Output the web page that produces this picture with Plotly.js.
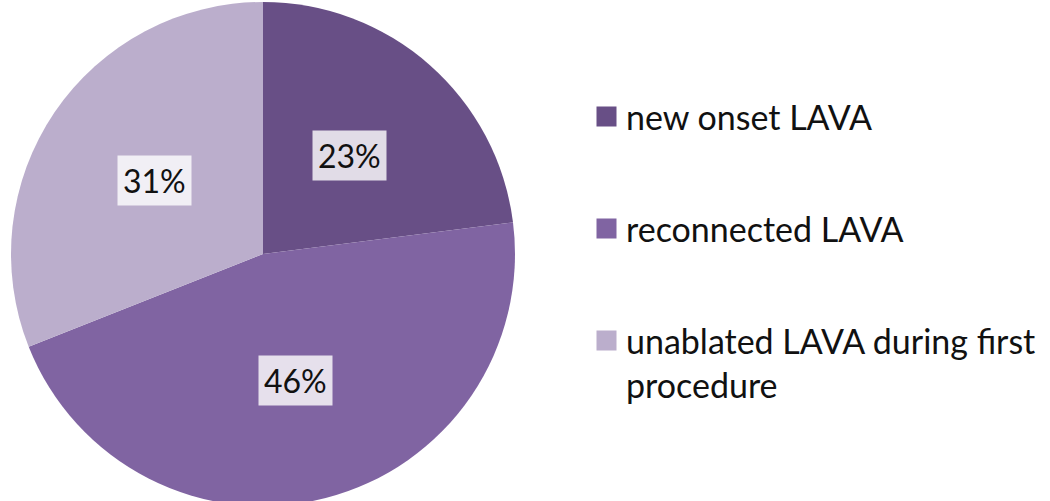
<!DOCTYPE html>
<html>
<head>
<meta charset="utf-8">
<script src="https://cdn.plot.ly/plotly-3.0.1.min.js"></script>
<style>html,body{margin:0;padding:0;overflow:hidden;background:#fff;}</style>
</head>
<body>
<div id="chart" style="width:1050px;height:508px;"></div>
<script>
const categories = ["new onset LAVA", "reconnected LAVA", "unablated LAVA during first<br>procedure"];
const values = [23, 46, 31];
const percentLabels = ["23%", "46%", "31%"];
const colors = ["#684f86", "#8064a2", "#bbaecc"];

const W = 1050, H = 508;
const dom = {x: [11 / W, 515 / W], y: [(H - 506) / H, (H - 2) / H]};

const trace = {
  type: "pie",
  values: values,
  labels: categories,
  sort: false,
  direction: "clockwise",
  rotation: 0,
  marker: {colors: colors, line: {width: 0}},
  textinfo: "none",
  hoverinfo: "none",
  showlegend: false,
  domain: dom
};

// percentage labels positioned from the data (mid-angle of each slice)
const total = values.reduce((a, b) => a + b, 0);
const cx = (dom.x[0] + dom.x[1]) / 2 * W;
const cy = (1 - (dom.y[0] + dom.y[1]) / 2) * H;
const R = Math.min((dom.x[1] - dom.x[0]) * W, (dom.y[1] - dom.y[0]) * H) / 2;
const annotations = [];
let cum = 0;
values.forEach((v, i) => {
  const mid = (cum + v / 2) / total * 2 * Math.PI;
  cum += v;
  const px = cx + 0.52 * R * Math.sin(mid);
  const py = cy - 0.52 * R * Math.cos(mid);
  annotations.push({
    xref: "paper", yref: "paper",
    x: px / W, y: 1 - py / H,
    text: percentLabels[i],
    showarrow: false,
    font: {family: "Lato, sans-serif", size: 32, color: "#111"},
    bgcolor: "rgba(255,255,255,0.8)",
    borderpad: 5,
    xanchor: "center", yanchor: "middle"
  });
});

// legend
const legendY = [116, 228, 340];
categories.forEach((c, i) => {
  annotations.push({
    xref: "paper", yref: "paper",
    x: 596 / W, y: 1 - legendY[i] / H,
    text: " ", showarrow: false,
    width: 19, height: 19, bgcolor: colors[i], borderpad: 0,
    xanchor: "left", yanchor: "middle"
  });
  annotations.push({
    xref: "paper", yref: "paper",
    x: 624 / W, y: 1 - (legendY[i] - 22) / H,
    text: c, showarrow: false, align: "left",
    font: {family: "Lato, sans-serif", size: 34, color: "#111"},
    xanchor: "left", yanchor: "top"
  });
});

const layout = {
  width: W, height: H,
  margin: {l: 0, r: 0, t: 0, b: 0},
  paper_bgcolor: "#fff",
  showlegend: false,
  annotations: annotations
};

Plotly.newPlot("chart", [trace], layout, {displayModeBar: false, staticPlot: true});
</script>
</body>
</html>
